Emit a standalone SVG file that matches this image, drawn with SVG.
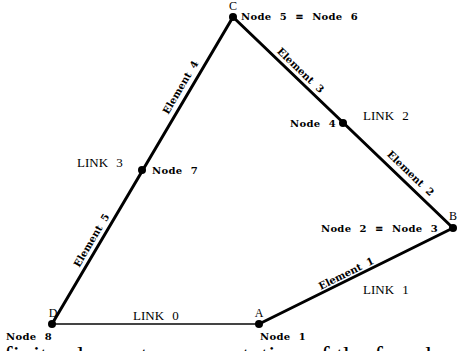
<svg xmlns="http://www.w3.org/2000/svg" width="459" height="351" viewBox="0 0 459 351">
<style>
.bar{stroke:#000;stroke-width:3;stroke-linecap:round;fill:none}
.ground{stroke:#444;stroke-width:1.8;fill:none}
.dot{fill:#000}
.nl{font-family:"DejaVu Serif",serif;font-size:10px;font-weight:bold;letter-spacing:0.3px;word-spacing:4.5px;fill:#000}
.el{font-family:"DejaVu Serif",serif;font-size:10px;font-weight:bold;word-spacing:3px;fill:#000;text-anchor:middle}
.lk{font-family:"Liberation Serif",serif;font-size:13px;word-spacing:5px;fill:#000}
.pt{font-family:"Liberation Serif",serif;font-size:12px;fill:#000;text-anchor:middle}
.cap{font-family:"Liberation Serif",serif;font-size:26px;fill:#000}
</style>
<rect width="459" height="351" fill="#fff"/>
<g id="connectors">
<line class="ground" x1="52" y1="324" x2="259" y2="324"/>
<line class="bar" x1="259" y1="324" x2="453" y2="228"/>
<line class="bar" x1="453" y1="228" x2="233" y2="17"/>
<line class="bar" x1="233" y1="17" x2="52" y2="324"/>
</g>
<g id="nodeC"><circle class="dot" cx="233" cy="17" r="4"/><text class="pt" x="233" y="9.5">C</text><text class="nl" x="241" y="20">Node 5 ≡ Node 6</text></g>
<g id="node4"><circle class="dot" cx="343" cy="123" r="4"/><text class="nl" x="336" y="127" text-anchor="end">Node 4</text></g>
<g id="nodeB"><circle class="dot" cx="453" cy="228" r="4"/><text class="pt" x="453" y="220">B</text><text class="nl" x="438" y="232" text-anchor="end">Node 2 ≡ Node 3</text></g>
<g id="nodeA"><circle class="dot" cx="259" cy="324" r="4"/><text class="pt" x="259" y="317">A</text><text class="nl" x="260" y="340">Node 1</text></g>
<g id="nodeD"><circle class="dot" cx="52" cy="324" r="4"/><text class="pt" x="53" y="317">D</text><text class="nl" x="6" y="340">Node 8</text></g>
<g id="node7"><circle class="dot" cx="142" cy="170" r="4"/><text class="nl" x="152" y="174">Node 7</text></g>
<g id="labels">
<text class="el" transform="translate(301,70) rotate(43.8)" y="4">Element 3</text>
<text class="el" transform="translate(411,173) rotate(43.8)" y="4">Element 2</text>
<text class="el" transform="translate(346,273) rotate(-26.3)" y="4">Element 1</text>
<text class="el" transform="translate(180,87) rotate(-59.5)" y="4">Element 4</text>
<text class="el" transform="translate(91,240) rotate(-59.5)" y="4">Element 5</text>
<text class="lk" x="133" y="320">LINK 0</text>
<text class="lk" x="363" y="294">LINK 1</text>
<text class="lk" x="363" y="120">LINK 2</text>
<text class="lk" x="77" y="167">LINK 3</text>
<text class="cap" x="4" y="364">finite element representation of the four-bar</text>
</g>
</svg>
